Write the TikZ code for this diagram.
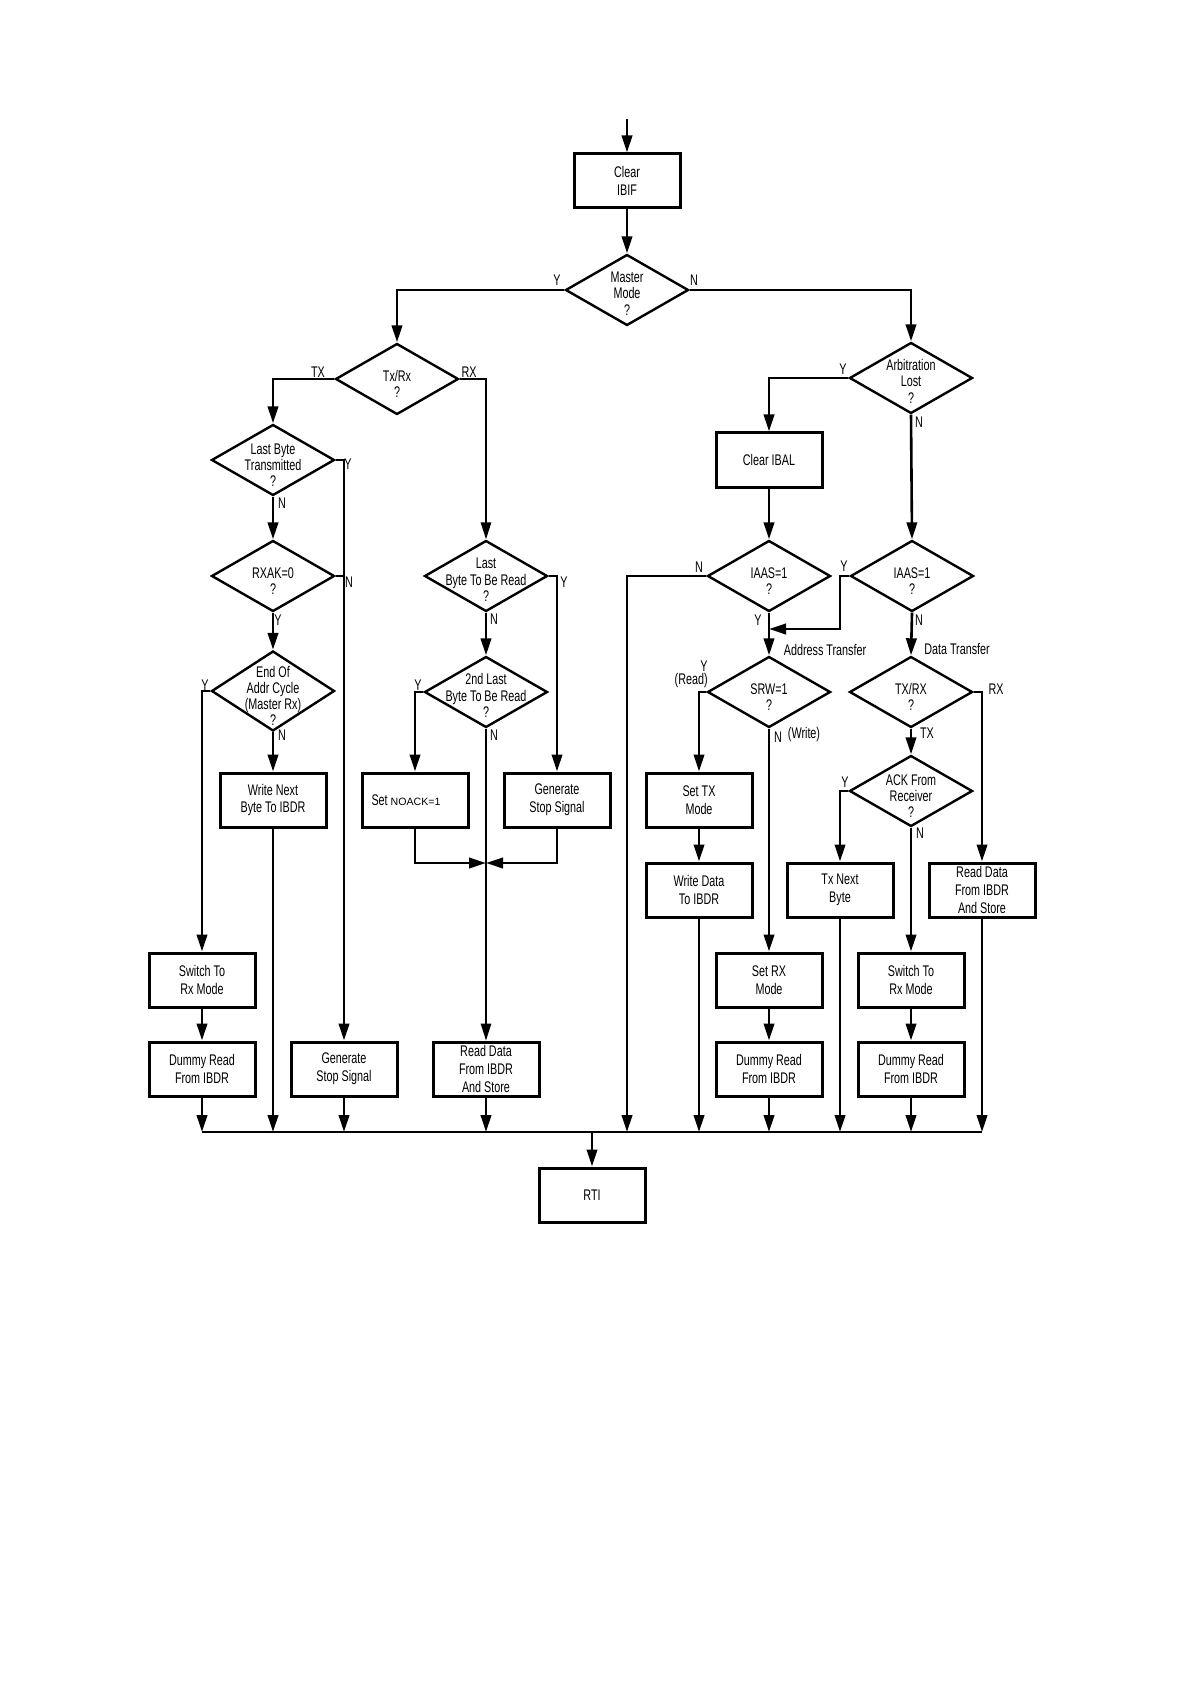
\documentclass[tikz,border=0pt]{standalone}
\usepackage{fontspec}
\setmainfont[FakeStretch=0.7]{Liberation Sans}
\newfontfamily\wideff{Liberation Sans}
\usetikzlibrary{arrows.meta,shapes.geometric}

% 菱形内文字稍向下
\newcommand{\dtop}{\rule{0pt}{10.6pt}}
\newcommand{\dtopc}{\rule{0pt}{9pt}}

\tikzset{
	proc/.style={draw, line width=1.5pt, minimum width=53pt, minimum height=27pt, inner xsep=1pt, inner ysep=0pt, align=center},
	dec/.style={draw, diamond, line width=1.2pt, inner sep=-30pt, minimum width=61.5pt, minimum height=35.5pt, align=center, font=\fontsize{7.7}{8.1}\selectfont},
	flow/.style={line width=1.3pt},
	thinflow/.style={line width=0.8pt},
	lbl/.style={inner sep=0pt},
}

\begin{document}
\begin{tikzpicture}[x=0.5pt, y=-0.5pt, >={Triangle[length=8.5pt,width=5.2pt]}, every node/.style={font=\fontsize{7.7}{8.8}\selectfont}]
	\useasboundingbox (0,0) rectangle (1191,1684);
	
	% === 主干 ===
	\node[proc] (clr) at (627,181) {Clear\\IBIF};
	\node[dec] (mm) at (627,290) {\dtopc Master\\Mode\\?};
	\node[dec] (txrx) at (397,379) {\dtop Tx/Rx\\?};
	\node[dec] (arb) at (911,378) {\dtopc Arbitration\\Lost\\?};
	\node[proc] (clbal) at (769,460) {Clear IBAL};
	
	% === 主机发送 ===
	\node[dec] (lbt) at (273,460) {\dtop Last Byte\\Transmitted\\?};
	\node[dec] (rxak) at (273,576) {\dtop RXAK=0\\?};
	\node[dec, minimum height=40pt, font=\fontsize{7.7}{7.9}\selectfont] (eoa) at (273,691) {\dtop End Of\\Addr Cycle\\(Master Rx)\\?};
	\node[proc] (wnb) at (273,800) {Write Next\\Byte To IBDR};
	\node[proc] (swl) at (202,980) {Switch To\\Rx Mode};
	\node[proc] (drl) at (202,1069) {Dummy Read\\From IBDR};
	\node[proc] (gsl) at (344,1069) {Generate\\Stop Signal};
	
	% === 主机接收 ===
	\node[dec] (lbr) at (486,576) {\dtopc Last\\Byte To Be Read\\?};
	\node[dec] (slb) at (486,692) {\dtopc 2nd Last\\Byte To Be Read\\?};
	\node[proc] (noack) at (415,800) {Set {\wideff\fontsize{5.3}{8}\selectfont NOACK=1}\hspace*{9pt}};
	\node[proc] (gss) at (557,800) {Generate\\Stop Signal};
	\node[proc] (rdm) at (486,1069) {Read Data\\From IBDR\\And Store};
	
	% === 从机 ===
	\node[dec] (iaasl) at (769,576) {\dtop IAAS=1\\?};
	\node[dec] (iaasr) at (912,576) {\dtop IAAS=1\\?};
	\node[dec] (srw) at (769,692) {\dtop SRW=1\\?};
	\node[dec] (trx) at (911,692) {\dtop TX/RX\\?};
	\node[dec] (ack) at (911,791) {\dtop ACK From\\Receiver\\?};
	\node[proc] (stx) at (699,800) {Set TX\\Mode};
	\node[proc] (wdat) at (699,890) {Write Data\\To IBDR};
	\node[proc] (txnb) at (840,890) {Tx Next\\Byte};
	\node[proc] (rdr) at (982,890) {Read Data\\From IBDR\\And Store};
	\node[proc] (srx) at (769,980) {Set RX\\Mode};
	\node[proc] (swr) at (911,980) {Switch To\\Rx Mode};
	\node[proc] (dra) at (769,1069) {Dummy Read\\From IBDR};
	\node[proc] (drb) at (911,1069) {Dummy Read\\From IBDR};
	
	\node[proc] (rti) at (592,1195) {RTI};
	
	% 辅助点
	\coordinate (start) at (627,119);
	\coordinate (busl) at (202,1132);
	\coordinate (busr) at (982,1132);
	\coordinate (nbus) at (627,1132);
	\coordinate (mrg) at (486,863);
	\coordinate (ycut) at (840,629);
	
	% === 连线 ===
	\draw[flow,->] (start) -- (clr.north);
	\draw[flow,->] (clr.south) -- (mm.north);
	\draw[flow,->] (mm.west) -| (txrx.north);
	\draw[flow,->] (mm.east) -| (arb.north);
	\draw[flow,->] (txrx.west) -| (lbt.north);
	\draw[thinflow,->] (txrx.east) -| (lbr.north);
	\draw[flow,->] (arb.west) -| (clbal.north);
	\draw[flow,->] (arb.south) -- (iaasr.north);
	\draw[flow,->] (clbal.south) -- (iaasl.north);
	
	\draw[flow,->] (lbt.south) -- (rxak.north);
	\draw[flow,->] (lbt.east) -| (gsl.north);
	\draw[flow] (rxak.east) -- (rxak.east -| gsl);
	\draw[flow,->] (rxak.south) -- (eoa.north);
	\draw[flow,->] (eoa.west) -| (swl.north);
	\draw[flow,->] (eoa.south) -- (wnb.north);
	\draw[flow,->] (swl.south) -- (drl.north);
	
	\draw[flow,->] (lbr.east) -| (gss.north);
	\draw[flow,->] (lbr.south) -- (slb.north);
	\draw[flow,->] (slb.west) -| (noack.north);
	\draw[thinflow,->] (slb.south) -- (rdm.north);
	\draw[flow,->] (noack.south) |- (mrg);
	\draw[flow,->] (gss.south) |- (mrg);
	
	\draw[flow,->] (iaasl.west) -| (nbus);
	\draw[flow,->] (iaasl.south) -- (srw.north);
	\draw[flow,->] (iaasr.west) -- (iaasr.west -| ycut) -- (ycut) -- (ycut -| iaasl);
	\draw[flow,->] (iaasr.south) -- (trx.north);
	\draw[flow,->] (srw.west) -| (stx.north);
	\draw[flow,->] (srw.south) -- (srx.north);
	\draw[flow,->] (stx.south) -- (wdat.north);
	\draw[flow,->] (srx.south) -- (dra.north);
	\draw[flow,->] (trx.east) -| (rdr.north);
	\draw[flow,->] (trx.south) -- (ack.north);
	\draw[flow,->] (ack.west) -| (txnb.north);
	\draw[flow,->] (ack.south) -- (swr.north);
	\draw[flow,->] (swr.south) -- (drb.north);
	
	% 汇总线
	\draw[flow] (busl) -- (busr);
	\foreach \n in {drl,wnb,gsl,rdm,wdat,dra,txnb,drb,rdr}
		\draw[flow,->] (\n.south) -- (\n.south |- busl);
	\draw[flow,->] (rti.north |- busl) -- (rti.north);
	
	% === 标注 ===
	\node[lbl] (ymm) at (557,280) {Y};
	\node[lbl] (nmm) at (694,280) {N};
	\node[lbl] (ttx) at (318,372) {TX};
	\node[lbl] (trxl) at (469,372) {RX};
	\node[lbl] (yarb) at (843,369) {Y};
	\node[lbl] (narb) at (919,422) {N};
	\node[lbl] (ylbt) at (348,464) {Y};
	\node[lbl] (nlbt) at (282,503) {N};
	\node[lbl] (nrxak) at (349,582) {N};
	\node[lbl] (yrxak) at (278,620) {Y};
	\node[lbl] (yeoa) at (205,685) {Y};
	\node[lbl] (neoa) at (282,735) {N};
	\node[lbl] (ylbr) at (564,582) {Y};
	\node[lbl] (nlbr) at (494,619) {N};
	\node[lbl] (yslb) at (418,685) {Y};
	\node[lbl] (nslb) at (494,735) {N};
	\node[lbl] (niaasl) at (699,567) {N};
	\node[lbl] (yiaasl) at (758,620) {Y};
	\node[lbl] (yiaasr) at (844,566) {Y};
	\node[lbl] (niaasr) at (919,620) {N};
	\node[lbl] (adtr) at (825,650) {Address Transfer};
	\node[lbl] (datr) at (957,649) {Data Transfer};
	\node[lbl, anchor=east, align=right, font=\fontsize{7.7}{6.6}\selectfont] (ysrw) at (708,674) {Y\\(Read)};
	\node[lbl] (nsrw) at (778,737) {N};
	\node[lbl] (wrsrw) at (804,735) {(Write)};
	\node[lbl] (rxtrx) at (996,689) {RX};
	\node[lbl] (txtrx) at (927,733) {TX};
	\node[lbl] (yack) at (845,782) {Y};
	\node[lbl] (nack) at (920,833) {N};
\end{tikzpicture}
\end{document}
